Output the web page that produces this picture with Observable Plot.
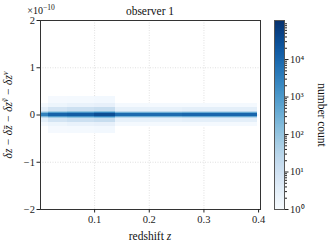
<!DOCTYPE html>
<html>
<head>
<meta charset="utf-8">
<script src="https://cdn.jsdelivr.net/npm/d3@7"></script>
<script src="https://cdn.jsdelivr.net/npm/@observablehq/plot@0.6"></script>
<style>
  html, body { margin: 0; padding: 0; background: white; }
  #wrap { position: relative; width: 329px; height: 247px; overflow: hidden; background: white; }
  #wrap svg { position: absolute; top: 0; }
</style>
</head>
<body>
<div id="wrap"></div>
<script>
// ---- data (y values in units of 1e-10) ----
const xTicks = [0.1, 0.2, 0.3, 0.4];
const yTicks = [-2, -1, 0, 1, 2];
const cbarTicks = [1, 10, 100, 1000, 10000];
const cbarMax = 110000;

// redshift segments of the 2D histogram
const segX1 = [0.001, 0.015, 0.05, 0.10, 0.138, 0.26];
const segX2 = [0.015, 0.05, 0.10, 0.138, 0.26, 0.398];
// half-widths of the nested bands around zero (×1e-10), widest first
const bandHalf = [0.4, 0.25, 0.15, 0.08, 0.045, 0.022];
// number counts per band, one array per segment
const countsSeg1 = [0, 1.2, 3, 20, 200, 3000];
const countsSeg2 = [1.15, 1.8, 8, 60, 800, 12000];
const countsSeg3 = [1.2, 2.2, 12, 100, 1200, 15000];
const countsSeg4 = [1.3, 2.6, 15, 150, 2500, 30000];
const countsSeg5 = [0, 1.2, 2.5, 20, 300, 8000];
const countsSeg6 = [0, 1.2, 3, 25, 400, 10000];
const countsBySeg = [countsSeg1, countsSeg2, countsSeg3, countsSeg4, countsSeg5, countsSeg6];

const cells = [];
segX1.forEach((x1, i) => {
  bandHalf.forEach((h, j) => {
    const c = countsBySeg[i][j];
    if (c > 0) cells.push({x1, x2: segX2[i], y1: -h, y2: h, count: c});
  });
});

const font = "Liberation Serif";
const colorOpts = {type: "log", scheme: "blues", domain: [1, cbarMax]};
const fmtY = d => d < 0 ? "\u2212" + Math.abs(d) : String(d);
const sup = {"0":"\u2070","1":"\u00b9","2":"\u00b2","3":"\u00b3","4":"\u2074","5":"\u2075"};
const fmtPow = d => "10" + sup[String(Math.round(Math.log10(d)))];
const gridStyle = {stroke: "#c8c8c8", strokeOpacity: 0.55, strokeDasharray: "1,1.5"};

const main = Plot.plot({
  width: 329, height: 247,
  marginLeft: 40, marginRight: 69, marginTop: 20, marginBottom: 38,
  style: {fontFamily: font, fontSize: "10px", background: "white", color: "#222"},
  x: {domain: [0.001, 0.4035]},
  y: {domain: [-2, 2]},
  color: colorOpts,
  marks: [
    Plot.gridX([0.1, 0.2, 0.3], gridStyle),
    Plot.gridY([-1, 0, 1], gridStyle),
    Plot.rect(cells, {x1: "x1", x2: "x2", y1: "y1", y2: "y2", fill: "count", shapeRendering: "crispEdges"}),
    Plot.frame({stroke: "#333", strokeWidth: 1}),
    Plot.axisX({ticks: xTicks, tickFormat: d => d.toFixed(1), tickSize: 3.5, tickPadding: 3, label: null, fontSize: 10.5, fontFamily: font}),
    Plot.axisY({ticks: yTicks, tickFormat: fmtY, tickSize: 3.5, tickPadding: 2, label: null, fontSize: 10.5, fontFamily: font})
  ]
});
main.style.left = "0px";

// titles / labels
const ms = d3.select(main);
ms.append("text").attr("x", 150).attr("y", 15).attr("text-anchor", "middle")
  .attr("font-family", font).attr("font-size", 11.5).attr("fill", "#111").text("observer 1");
const ex = ms.append("text").attr("x", 41).attr("y", 14).attr("font-family", font)
  .attr("font-size", 10).attr("fill", "#111");
ex.append("tspan").text("\u00d710");
ex.append("tspan").attr("dy", -4).attr("font-size", 7.5).text("\u221210");
ms.append("text").attr("x", 150).attr("y", 240).attr("text-anchor", "middle")
  .attr("font-family", font).attr("font-size", 11.5).attr("fill", "#111")
  .call(t => { t.append("tspan").text("redshift "); t.append("tspan").attr("font-style", "italic").text("z"); });
const yl = ms.append("text").attr("transform", "translate(12,115) rotate(-90)")
  .attr("text-anchor", "middle").attr("font-family", font).attr("font-size", 11.5)
  .attr("fill", "#111").attr("font-style", "italic");
yl.append("tspan").text("\u03b4z \u2212 \u03b4z\u0304 \u2212 \u03b4z");
yl.append("tspan").attr("dy", -4).attr("font-size", 8).text("\u1e7d");
yl.append("tspan").attr("dy", 4).text(" \u2212 \u03b4z");
yl.append("tspan").attr("dy", -4).attr("font-size", 8).text("v");

// colorbar
const levels = d3.range(0, 5.05, 0.02).map(e => [10 ** e, 10 ** (e + 0.02)]);
const minors = [];
for (let e = 0; e < 5; e++) for (let k = 2; k <= 9; k++) { const v = k * 10 ** e; if (v <= cbarMax) minors.push(v); }
const cbar = Plot.plot({
  width: 55, height: 247,
  marginLeft: 0, marginRight: 45, marginTop: 20, marginBottom: 38,
  style: {fontFamily: font, fontSize: "10px", background: "transparent", color: "#222"},
  x: {domain: [0, 1], axis: null},
  y: {type: "log", domain: [1, cbarMax]},
  color: colorOpts,
  marks: [
    Plot.rect(levels, {x1: 0, x2: 1, y1: d => d[0], y2: d => Math.min(d[1], cbarMax), fill: d => Math.sqrt(d[0] * d[1]), shapeRendering: "crispEdges"}),
    Plot.frame({stroke: "#555"}),
    Plot.axisY({anchor: "right", ticks: cbarTicks, tickFormat: fmtPow, tickSize: 3.5, tickPadding: 2, label: null, fontSize: 10.5, fontFamily: font}),
    Plot.axisY({anchor: "right", ticks: minors, tickFormat: () => "", tickSize: 2, label: null})
  ]
});
cbar.style.left = "274px";
d3.select(cbar).append("text").attr("transform", "translate(44,115) rotate(90)")
  .attr("text-anchor", "middle").attr("font-family", font).attr("font-size", 11.5)
  .attr("fill", "#111").text("number count");

const wrap = document.getElementById("wrap");
wrap.appendChild(main);
wrap.appendChild(cbar);
</script>
</body>
</html>
